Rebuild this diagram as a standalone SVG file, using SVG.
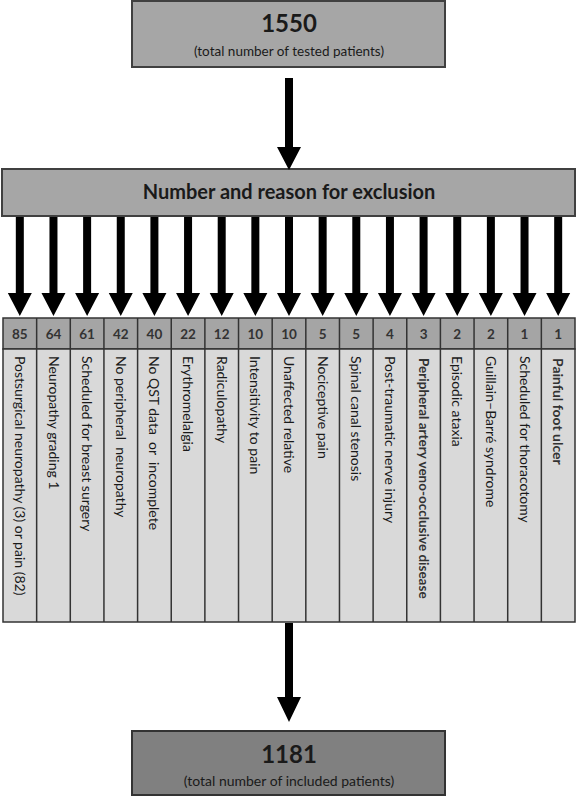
<svg xmlns="http://www.w3.org/2000/svg" xmlns:xlink="http://www.w3.org/1999/xlink" width="578" height="798" viewBox="0 0 578 798">
<style>
.box{fill:#a6a6a6;stroke:#404040;stroke-width:2}
.bot{fill:#808080;stroke:#333;stroke-width:2}
.hdr{fill:#a5a5a5;stroke:#333;stroke-width:1.5}
.cell{fill:#d9d9d9;stroke:#333;stroke-width:1.5}
.t{font-family:Lato,"Liberation Sans",sans-serif;fill:#1a1a1a}
.big{font-size:24px;font-weight:bold;text-anchor:middle}
.sub{font-size:13.5px;text-anchor:middle}
.num{font-size:13.5px;font-weight:bold;text-anchor:middle;fill:#333}
.v{font-size:14px;white-space:pre}
.vb{font-weight:bold;fill:#333}
.arrow{fill:#000}
</style>
<defs>
<path id="arr" d="M-4,217 H4 V293 H12 L0,316 L-12,293 H-4 Z"/>
</defs>
<g id="n-total">
<rect class="box" x="132" y="1" width="313" height="66"/>
<text class="t big" x="289" y="32">1550</text>
<text class="t sub" x="289" y="56">(total number of tested patients)</text>
</g>
<g id="n-exclusion">
<rect class="box" x="2" y="169" width="573" height="47"/>
<text class="t" x="289" y="199" font-size="20" font-weight="bold" text-anchor="middle">Number and reason for exclusion</text>
</g>
<g id="n-table">
<rect class="hdr" x="3" y="318" width="572" height="31"/>
<rect class="cell" x="3" y="349" width="572" height="273"/>
<g stroke="#333" stroke-width="1.5">
<line x1="36.65" y1="318" x2="36.65" y2="622"/>
<line x1="70.29" y1="318" x2="70.29" y2="622"/>
<line x1="103.94" y1="318" x2="103.94" y2="622"/>
<line x1="137.59" y1="318" x2="137.59" y2="622"/>
<line x1="171.24" y1="318" x2="171.24" y2="622"/>
<line x1="204.88" y1="318" x2="204.88" y2="622"/>
<line x1="238.53" y1="318" x2="238.53" y2="622"/>
<line x1="272.18" y1="318" x2="272.18" y2="622"/>
<line x1="305.82" y1="318" x2="305.82" y2="622"/>
<line x1="339.47" y1="318" x2="339.47" y2="622"/>
<line x1="373.12" y1="318" x2="373.12" y2="622"/>
<line x1="406.76" y1="318" x2="406.76" y2="622"/>
<line x1="440.41" y1="318" x2="440.41" y2="622"/>
<line x1="474.06" y1="318" x2="474.06" y2="622"/>
<line x1="507.71" y1="318" x2="507.71" y2="622"/>
<line x1="541.35" y1="318" x2="541.35" y2="622"/>
</g>
<g class="t num">
<text x="19.82" y="339">85</text>
<text x="53.47" y="339">64</text>
<text x="87.12" y="339">61</text>
<text x="120.76" y="339">42</text>
<text x="154.41" y="339">40</text>
<text x="188.06" y="339">22</text>
<text x="221.71" y="339">12</text>
<text x="255.35" y="339">10</text>
<text x="289" y="339">10</text>
<text x="322.65" y="339">5</text>
<text x="356.29" y="339">5</text>
<text x="389.94" y="339">4</text>
<text x="423.59" y="339">3</text>
<text x="457.24" y="339">2</text>
<text x="490.88" y="339">2</text>
<text x="524.53" y="339">1</text>
<text x="558.18" y="339">1</text>
</g>
<g class="t v">
<text transform="translate(14.8,356) rotate(90)">Postsurgical neuropathy (3) or pain (82)</text>
<text transform="translate(48.5,356) rotate(90)">Neuropathy grading 1</text>
<text transform="translate(82.1,356) rotate(90)">Scheduled for breast surgery</text>
<text xml:space="preserve" transform="translate(115.8,356) rotate(90)">No peripheral  neuropathy</text>
<text xml:space="preserve" transform="translate(149.4,356) rotate(90)">No QST data  or  incomplete</text>
<text transform="translate(183.1,356) rotate(90)">Erythromelalgia</text>
<text transform="translate(216.7,356) rotate(90)">Radiculopathy</text>
<text transform="translate(250.4,356) rotate(90)">Intensitivity to pain</text>
<text transform="translate(284,356) rotate(90)">Unaffected relative</text>
<text transform="translate(317.7,356) rotate(90)">Nociceptive pain</text>
<text transform="translate(351.3,356) rotate(90)">Spinal canal stenosis</text>
<text transform="translate(384.9,356) rotate(90)">Post-traumatic nerve injury</text>
<text class="vb" font-size="13.5" transform="translate(418.9,358) rotate(90)">Peripheral artery veno-occlusive disease</text>
<text transform="translate(452.2,356) rotate(90)">Episodic ataxia</text>
<text transform="translate(485.9,356) rotate(90)">Guillain–Barré syndrome</text>
<text transform="translate(519.5,356) rotate(90)">Scheduled for thoracotomy</text>
<text class="vb" font-size="14" transform="translate(553.2,358) rotate(90)">Painful foot ulcer</text>
</g>
</g>
<g id="n-included">
<rect class="bot" x="132" y="731" width="313" height="64"/>
<text class="t big" x="289" y="763">1181</text>
<text class="t" x="289" y="786" font-size="14" text-anchor="middle">(total number of included patients)</text>
</g>
<g id="connectors" class="arrow">
<path d="M285,78 H293 V147 H301 L289,170 L277,147 H285 Z"/>
<use xlink:href="#arr" href="#arr" x="19.82"/>
<use xlink:href="#arr" href="#arr" x="53.47"/>
<use xlink:href="#arr" href="#arr" x="87.12"/>
<use xlink:href="#arr" href="#arr" x="120.76"/>
<use xlink:href="#arr" href="#arr" x="154.41"/>
<use xlink:href="#arr" href="#arr" x="188.06"/>
<use xlink:href="#arr" href="#arr" x="221.71"/>
<use xlink:href="#arr" href="#arr" x="255.35"/>
<use xlink:href="#arr" href="#arr" x="289"/>
<use xlink:href="#arr" href="#arr" x="322.65"/>
<use xlink:href="#arr" href="#arr" x="356.29"/>
<use xlink:href="#arr" href="#arr" x="389.94"/>
<use xlink:href="#arr" href="#arr" x="423.59"/>
<use xlink:href="#arr" href="#arr" x="457.24"/>
<use xlink:href="#arr" href="#arr" x="490.88"/>
<use xlink:href="#arr" href="#arr" x="524.53"/>
<use xlink:href="#arr" href="#arr" x="558.18"/>
<path d="M285,623 H293 V697 H301 L289,722 L277,697 H285 Z"/>
</g>
</svg>
